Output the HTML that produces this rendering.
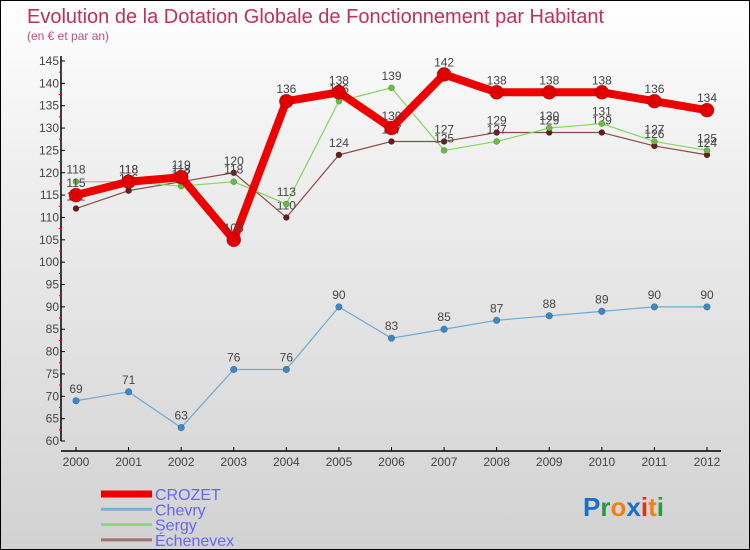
<!DOCTYPE html>
<html><head><meta charset="utf-8"><style>
body{margin:0}
#c{width:750px;height:550px;position:relative;overflow:hidden;background:linear-gradient(#ffffff 0%,#efefef 30%,#d2d2d2 100%);font-family:"Liberation Sans",sans-serif;box-sizing:border-box;border:1px solid #000}
</style></head><body>
<div id="c">
<svg id="s" width="750" height="550" style="position:absolute;left:0;top:0">
<text x="26" y="22" font-size="20" fill="#c0305a">Evolution de la Dotation Globale de Fonctionnement par Habitant</text>
<text x="26" y="39" font-size="12" fill="#c0507a">(en € et par an)</text>
</svg>
</div>
<script>
const years=[2000,2001,2002,2003,2004,2005,2006,2007,2008,2009,2010,2011,2012];
const crozet=[115,118,119,105,136,138,130,142,138,138,138,136,134];
const chevry=[69,71,63,76,76,90,83,85,87,88,89,90,90];
const sergy=[118,118,117,118,113,136,139,125,127,130,131,127,125];
const echenevex=[112,116,118,120,110,124,127,127,129,129,129,126,124];
const yTicks=[60,65,70,75,80,85,90,95,100,105,110,115,120,125,130,135,140,145];
const seriesNames=["CROZET","Chevry","Sergy","Échenevex"];
const NS="http://www.w3.org/2000/svg";
const svg=document.getElementById('s');
const x=i=>75+i*(706-75)/12;
const y=v=>440-(v-60)*(380/85);
function mk(t,a,p){const e=document.createElementNS(NS,t);for(const k in a)e.setAttribute(k,a[k]);(p||svg).appendChild(e);return e;}
let ax=mk('line',{x1:60,y1:55,x2:60,y2:440,stroke:'#000','stroke-width':1.5});


let bx=mk('line',{x1:60,y1:450,x2:720,y2:450,stroke:'#000','stroke-width':1.5});


yTicks.forEach(v=>{
 mk('line',{x1:60,y1:y(v),x2:64,y2:y(v),stroke:'#000'});
 if(v<145)mk('line',{x1:58,y1:y(v+2.5),x2:61,y2:y(v+2.5),stroke:'#e00'});
 const t=mk('text',{x:58,y:y(v)+4,'font-size':12,fill:'#444','text-anchor':'end'});t.textContent=v;
 
 
});
years.forEach((yr,i)=>{
 mk('line',{x1:x(i),y1:450,x2:x(i),y2:446,stroke:'#000'});
 const t=mk('text',{x:x(i),y:465,'font-size':12,fill:'#444','text-anchor':'middle'});t.textContent=yr;
 
 
});
function series(d,col,w,r,dot,name){
 const g=mk('g',{});
 
 
 mk('polyline',{points:d.map((v,i)=>x(i)+','+y(v)).join(' '),fill:'none',stroke:col,'stroke-width':w,'stroke-linejoin':'round'},g);
 d.forEach((v,i)=>{
  mk('circle',{cx:x(i),cy:y(v),r:r,fill:dot,stroke:'rgba(0,0,0,0.3)','stroke-width':0.6},g);
  const t=mk('text',{x:x(i),y:y(v)-8,'font-size':12,fill:'#444','text-anchor':'middle'},g);t.textContent=v;
 });
}
series(echenevex,'#8b4a4a',1.2,3,'#6a1a1a','series-echenevex');
series(sergy,'#7fd860',1.2,3,'#66c040','series-sergy');
series(chevry,'#6fa8d0',1.2,3.3,'#3a88c8','series-chevry');
series(crozet,'#ee0000',8,7,'#e00000','series-crozet');
const cols=['#ee0000','#7ab0d8','#8ed870','#a07070'],ws=[7,3,3,3];
seriesNames.forEach((n,i)=>{
 const yy=499+i*15.3;
 const l=mk('line',{x1:100,y1:yy-6,x2:151,y2:yy-6,stroke:cols[i],'stroke-width':ws[i]});
 
 
 const t=mk('text',{x:154,y:yy,'font-size':16,fill:'#6666ee'});t.textContent=n;
 
 
});
const lg=mk('text',{x:582,y:515,'font-size':26,'font-weight':'bold'});


[['P','#1a70c8'],['r','#2a9a40'],['o','#f08010'],['x','#1a70c8'],['i','#e03010'],['t','#f08010'],['i','#2a9a40']].forEach(([c,f])=>{const s=mk('tspan',{fill:f},lg);s.textContent=c;});
</script>
</body></html>
